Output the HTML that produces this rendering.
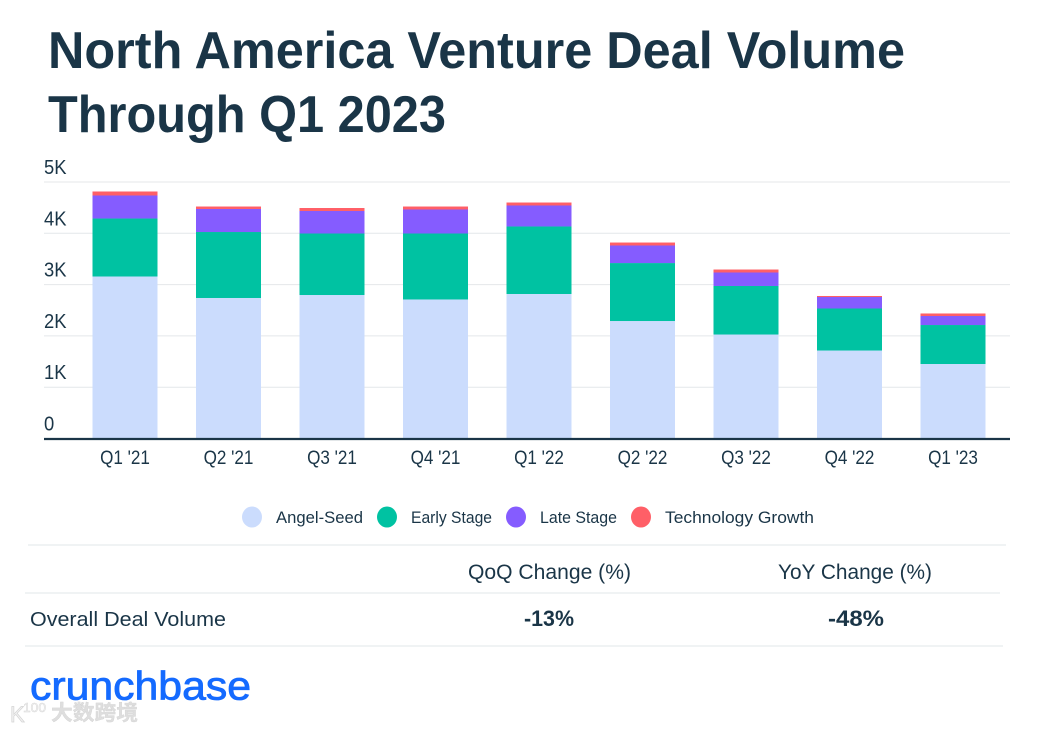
<!DOCTYPE html>
<html lang="en">
<head>
<meta charset="utf-8">
<title>North America Venture Deal Volume Through Q1 2023</title>
<style>
html,body{margin:0;padding:0;background:#fff;}
svg{display:block;font-family:"Liberation Sans","Noto Sans CJK SC",sans-serif;}
</style>
</head>
<body>
<svg id="chart" width="1053" height="731" viewBox="0 0 1053 731" xmlns="http://www.w3.org/2000/svg">
  <rect width="1053" height="731" fill="#ffffff"/>
  <g fill="#1a3547" font-size="52" font-weight="700">
    <text x="48" y="68" textLength="857" lengthAdjust="spacingAndGlyphs">North America Venture Deal Volume</text>
    <text x="48" y="132" textLength="398" lengthAdjust="spacingAndGlyphs">Through Q1 2023</text>
  </g>
  <g id="grid"></g>
  <g id="yticks"></g>
  <g id="bars"></g>
  <line x1="44" x2="1010" y1="439" y2="439" stroke="#1a3547" stroke-width="2.2"/>
  <g id="xticks"></g>

  <g font-size="17" fill="#1a3547">
    <g>
      <ellipse cx="252" cy="517" rx="10" ry="10.5" fill="#cbdcfd"/>
      <text x="276" y="523" textLength="87" lengthAdjust="spacingAndGlyphs">Angel-Seed</text>
    </g>
    <g>
      <ellipse cx="387" cy="517" rx="10" ry="10.5" fill="#00c2a2"/>
      <text x="411" y="523" textLength="81" lengthAdjust="spacingAndGlyphs">Early Stage</text>
    </g>
    <g>
      <ellipse cx="516" cy="517" rx="10" ry="10.5" fill="#855cff"/>
      <text x="540" y="523" textLength="77" lengthAdjust="spacingAndGlyphs">Late Stage</text>
    </g>
    <g>
      <ellipse cx="641" cy="517" rx="10" ry="10.5" fill="#ff5f67"/>
      <text x="665" y="523" textLength="149" lengthAdjust="spacingAndGlyphs">Technology Growth</text>
    </g>
  </g>

  <g fill="#1a3547">
    <line x1="28" x2="1006" y1="545" y2="545" stroke="#eceff1" stroke-width="1.5"/>
    <line x1="25" x2="1000" y1="593" y2="593" stroke="#eceff1" stroke-width="1.5"/>
    <line x1="25" x2="1003" y1="646" y2="646" stroke="#eceff1" stroke-width="1.5"/>
    <text x="468" y="579" font-size="21" textLength="163" lengthAdjust="spacingAndGlyphs">QoQ Change (%)</text>
    <text x="778" y="579" font-size="21" textLength="154" lengthAdjust="spacingAndGlyphs">YoY Change (%)</text>
    <text x="30" y="626" font-size="20.5" textLength="196" lengthAdjust="spacingAndGlyphs">Overall Deal Volume</text>
    <text x="524" y="626" font-size="22" font-weight="700" textLength="50" lengthAdjust="spacingAndGlyphs">-13%</text>
    <text x="828" y="626" font-size="22" font-weight="700" textLength="56" lengthAdjust="spacingAndGlyphs">-48%</text>
  </g>

  <text x="30" y="699.5" font-size="40" fill="#146aff" stroke="#146aff" stroke-width="0.8" textLength="221" lengthAdjust="spacingAndGlyphs">crunchbase</text>

  <g>
    <text x="10" y="722" font-size="22" fill="#f2f2f2" stroke="#d4d4d4" stroke-width="0.7">K</text>
    <text x="23" y="712" font-size="13" fill="#f6f6f6" stroke="#d8d8d8" stroke-width="0.5" textLength="23" lengthAdjust="spacingAndGlyphs">100</text>
    <text x="51" y="720" font-size="21" font-weight="700" fill="#dedede" stroke="#cfcfcf" stroke-width="0.3" textLength="87" lengthAdjust="spacingAndGlyphs">大数跨境</text>
  </g>
</svg>
<script>
const categories = ["Q1 '21","Q2 '21","Q3 '21","Q4 '21","Q1 '22","Q2 '22","Q3 '22","Q4 '22","Q1 '23"];
const angelSeed = [3158,2739,2797,2710,2817,2290,2027,1715,1452];
const earlyStage = [1130,1286,1199,1286,1316,1130,946,819,760];
const lateStage = [449,449,439,468,409,342,263,224,176];
const technologyGrowth = [78,48,58,58,58,58,58,20,49];
const yTickValues = [0,1000,2000,3000,4000,5000];
const yTickLabels = ["0","1K","2K","3K","4K","5K"];

const svgNS = "http://www.w3.org/2000/svg";
const seriesList = [
  {name:"angel-seed", values:angelSeed, color:"#cbdcfd"},
  {name:"early-stage", values:earlyStage, color:"#00c2a2"},
  {name:"late-stage", values:lateStage, color:"#855cff"},
  {name:"technology-growth", values:technologyGrowth, color:"#ff5f67"}
];
function yScale(v){ return 438.5 - v * (256.5 / 5000); }
function xCenter(i){ return 125 + i * 103.5; }
const barWidth = 65;

const gridG = document.getElementById("grid");
const yG = document.getElementById("yticks");
yTickValues.forEach(function(v, i){
  if (v > 0) {
    const ln = document.createElementNS(svgNS, "line");
    
    
    ln.setAttribute("x1", 44);
    ln.setAttribute("x2", 1010);
    ln.setAttribute("y1", yScale(v));
    ln.setAttribute("y2", yScale(v));
    ln.setAttribute("stroke", "#e4e7ea");
    ln.setAttribute("stroke-width", "1");
    gridG.appendChild(ln);
  }
  const t = document.createElementNS(svgNS, "text");
  
  
  t.setAttribute("x", 44);
  t.setAttribute("y", yScale(v) - 8);
  t.setAttribute("font-size", "20");
  t.setAttribute("fill", "#1a3547");
  t.textContent = yTickLabels[i];
  yG.appendChild(t);
  t.setAttribute("textLength", t.getComputedTextLength() * 0.92);
  t.setAttribute("lengthAdjust", "spacingAndGlyphs");
});

const barsG = document.getElementById("bars");
categories.forEach(function(cat, i){
  let running = 0;
  seriesList.forEach(function(s){
    const top = running + s.values[i];
    const r = document.createElementNS(svgNS, "rect");
    
    
    r.setAttribute("x", xCenter(i) - barWidth / 2);
    r.setAttribute("y", yScale(top));
    r.setAttribute("width", barWidth);
    r.setAttribute("height", yScale(running) - yScale(top));
    r.setAttribute("fill", s.color);
    barsG.appendChild(r);
    running = top;
  });
});

const xG = document.getElementById("xticks");
categories.forEach(function(cat, i){
  const t = document.createElementNS(svgNS, "text");
  
  
  t.setAttribute("x", xCenter(i));
  t.setAttribute("y", 464);
  t.setAttribute("font-size", "19");
  t.setAttribute("text-anchor", "middle");
  t.setAttribute("fill", "#1a3547");
  t.textContent = cat;
  xG.appendChild(t);
  t.setAttribute("textLength", t.getComputedTextLength() * 0.9);
  t.setAttribute("lengthAdjust", "spacingAndGlyphs");
});
</script>
</body>
</html>
